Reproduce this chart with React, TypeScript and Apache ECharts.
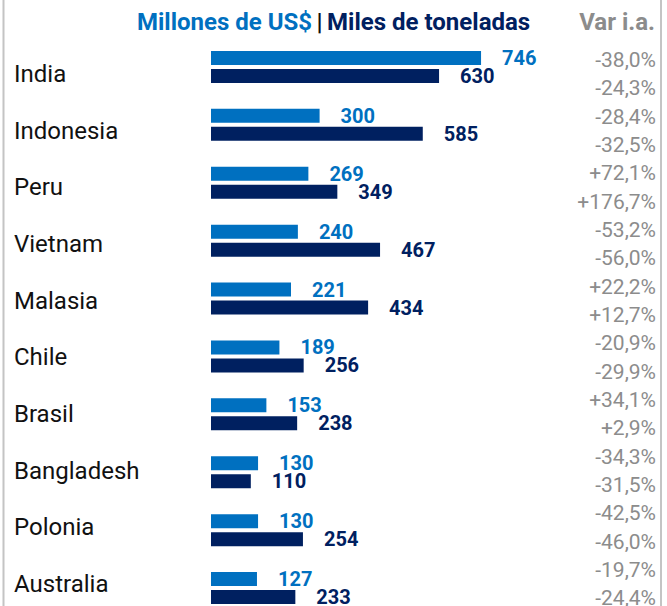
import React, { useEffect, useRef } from "react";
import * as echarts from "echarts";

const countries = ["India", "Indonesia", "Peru", "Vietnam", "Malasia", "Chile", "Brasil", "Bangladesh", "Polonia", "Australia"];
const usdMillions = [746, 300, 269, 240, 221, 189, 153, 130, 130, 127];
const thousandTons = [630, 585, 349, 467, 434, 256, 238, 110, 254, 233];
const varUsd = ["-38,0%", "-28,4%", "+72,1%", "-53,2%", "+22,2%", "-20,9%", "+34,1%", "-34,3%", "-42,5%", "-19,7%"];
const varTons = ["-24,3%", "-32,5%", "+176,7%", "-56,0%", "+12,7%", "-29,9%", "+2,9%", "-31,5%", "-46,0%", "-24,4%"];

const LIGHT = "#0070C0";
const DARK = "#002060";
const GRAY = "#8c8c8c";
const FONT = "Roboto";

export default function App() {
  const ref = useRef<HTMLDivElement>(null);
  useEffect(() => {
    if (!ref.current) return;
    const chart = echarts.init(ref.current, null, { renderer: "svg" });
    const pctLabels: string[] = [];
    countries.forEach((_, i) => {
      pctLabels.push(varUsd[i]);
      pctLabels.push(varTons[i]);
    });
    chart.setOption({
      animation: false,
      backgroundColor: "#ffffff",
      textStyle: { fontFamily: FONT },
      title: [
        {
          text: "{a|Millones de US$} {b||} {c|Miles de toneladas}",
          left: 137,
          top: 8,
          padding: 0,
          textStyle: {
            rich: {
              a: { color: LIGHT, fontSize: 24, fontWeight: "bold", fontFamily: FONT, lineHeight: 28 },
              b: { color: "#111111", fontSize: 24, fontWeight: "bold", fontFamily: FONT, lineHeight: 28 },
              c: { color: DARK, fontSize: 24, fontWeight: "bold", fontFamily: FONT, lineHeight: 28 },
            },
          },
        },
        {
          text: "Var i.a.",
          right: 12,
          top: 8,
          padding: 0,
          textStyle: { color: GRAY, fontSize: 24, fontWeight: "bold", fontFamily: FONT, lineHeight: 28 },
        },
      ],
      grid: [
        { left: 211, top: 38, width: 362, height: 579 },
        { left: 200, top: 45.7, right: 11, height: 566.7 },
      ],
      xAxis: [
        { gridIndex: 0, type: "value", min: 0, max: 1000, show: false },
        { gridIndex: 1, type: "value", min: 0, max: 1, show: false },
      ],
      yAxis: [
        { gridIndex: 0, type: "category", data: countries, inverse: true, show: false },
        {
          gridIndex: 1,
          type: "category",
          data: countries,
          inverse: true,
          axisLine: { show: false },
          axisTick: { show: false },
          splitLine: { show: false },
          axisLabel: { margin: 186, align: "left", fontSize: 24, color: "#111111", fontFamily: FONT },
        },
        {
          gridIndex: 1,
          type: "category",
          position: "right",
          data: pctLabels,
          inverse: true,
          axisLine: { show: false },
          axisTick: { show: false },
          splitLine: { show: false },
          axisLabel: { inside: true, margin: 0, align: "right", fontSize: 21, color: GRAY, fontFamily: FONT, interval: 0 },
        },
      ],
      series: [
        {
          type: "bar",
          name: "Millones de US$",
          xAxisIndex: 0,
          yAxisIndex: 0,
          data: usdMillions,
          barWidth: 14,
          barGap: "28.6%",
          itemStyle: { color: LIGHT },
          label: { show: true, position: "right", distance: 21, color: LIGHT, fontSize: 20, fontWeight: "bold", fontFamily: FONT },
        },
        {
          type: "bar",
          name: "Miles de toneladas",
          xAxisIndex: 0,
          yAxisIndex: 0,
          data: thousandTons,
          barWidth: 14,
          itemStyle: { color: DARK },
          label: { show: true, position: "right", distance: 21, color: DARK, fontSize: 20, fontWeight: "bold", fontFamily: FONT },
        },
      ],
      graphic: [
        { type: "line", shape: { x1: 3.5, y1: 0, x2: 3.5, y2: 640 }, style: { stroke: "#c4c4c4", lineWidth: 2 } },
        { type: "line", shape: { x1: 661, y1: 0, x2: 661, y2: 640 }, style: { stroke: "#c4c4c4", lineWidth: 2 } },
      ],
    });
    return () => chart.dispose();
  }, []);
  return <div ref={ref} style={{ position: "fixed", left: 0, top: 0, width: 667, height: 640 }} />;
}
